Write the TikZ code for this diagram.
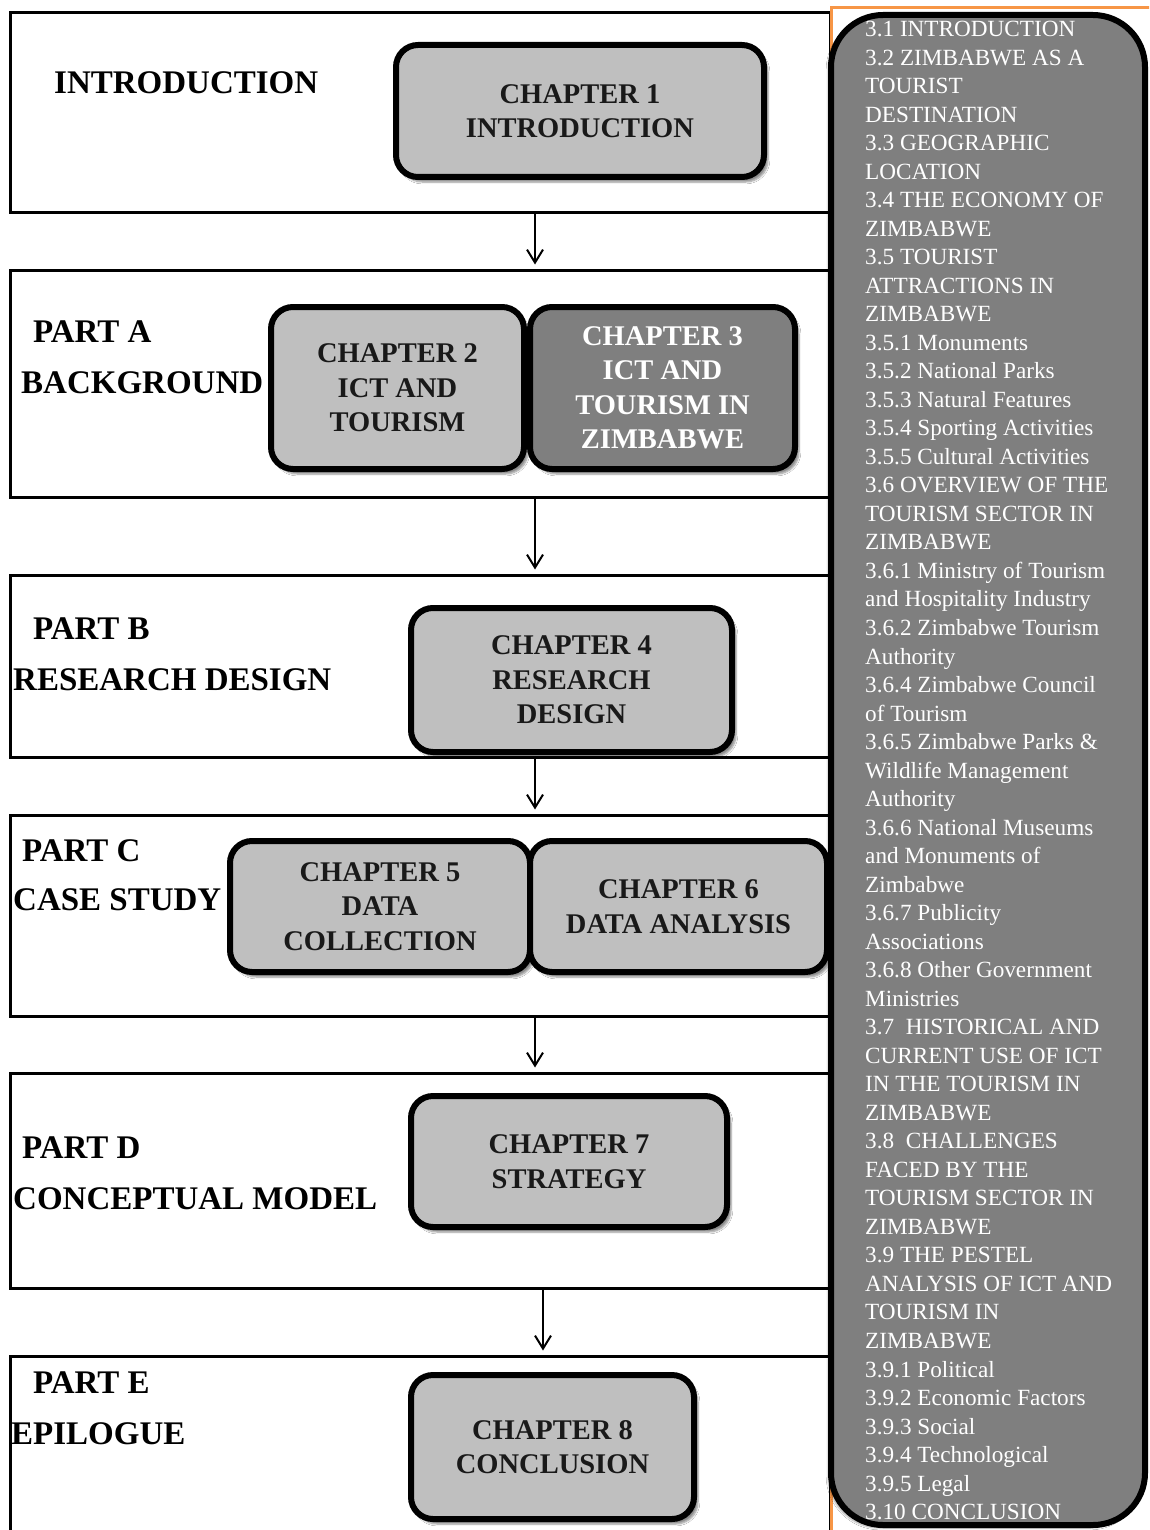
\documentclass[tikz,border=0pt]{standalone}
\usepackage{fontspec}
\setmainfont{Liberation Serif}
\usetikzlibrary{arrows.meta,fit,shadows.blur}

\definecolor{chapfill}{HTML}{BFBFBF}
\definecolor{chapdark}{HTML}{7F7F7F}
\definecolor{accent}{HTML}{F79646}

\begin{document}
\begin{tikzpicture}[x=1pt,y=-1pt,
  partbox/.style={draw=black, line width=3pt, inner sep=0pt, rectangle},
  chapbox/.style={draw=black, line width=6pt, rounded corners=22pt, fill=chapfill,
    align=center, inner sep=0pt, text=black!90,
    font=\bfseries\fontsize{28.5}{34.5}\selectfont,
    blur shadow={shadow xshift=4pt, shadow yshift=-5pt, shadow blur steps=6, shadow opacity=45}},
  darkchap/.style={chapbox, fill=chapdark, text=white},
  lbl/.style={anchor=west, inner sep=0pt, font=\bfseries\fontsize{33}{40}\selectfont},
  flow/.style={line width=2pt, -{Straight Barb[length=13pt,width=16pt,line width=2pt]}, shorten >=4pt},
  sidebar/.style={draw=black, line width=6pt, rounded corners=52pt, fill=chapdark,
    blur shadow={shadow xshift=-3pt, shadow yshift=-3pt, shadow blur steps=6, shadow opacity=35}},
  sidetext/.style={anchor=north west, inner sep=0pt, align=left, text=white,
    font=\fontsize{23.2}{28.52}\selectfont}
]
\useasboundingbox (0,0) rectangle (1149,1530);
\fill[white] (0,0) rectangle (1149,1530);
\clip (0,0) rectangle (1149,1530);

% part frames (their right edges run under the contents panel)
\node[partbox, fit={(10,13) (830,213)}]    (intro) {};
\node[partbox, fit={(10,270) (830,497)}]   (partA) {};
\node[partbox, fit={(10,575) (830,757)}]   (partB) {};
\node[partbox, fit={(10,815) (830,1016)}]  (partC) {};
\node[partbox, fit={(10,1073) (830,1288)}] (partD) {};
\node[partbox, fit={(10,1356) (830,1560)}] (partE) {};

% part labels
\node[lbl] (l-intro) at (54,83)  {INTRODUCTION};
\node[lbl] (l-a1) at (33,332)  {PART A};
\node[lbl] (l-a2) at (21,383)  {BACKGROUND};
\node[lbl] (l-b1) at (33,629)  {PART B};
\node[lbl] (l-b2) at (13,680)  {RESEARCH DESIGN};
\node[lbl] (l-c1) at (22,851)  {PART C};
\node[lbl] (l-c2) at (13,900)  {CASE STUDY};
\node[lbl] (l-d1) at (22,1148) {PART D};
\node[lbl] (l-d2) at (13,1199) {CONCEPTUAL MODEL};
\node[lbl] (l-e1) at (33,1383) {PART E};
\node[lbl] (l-e2) at (11,1434) {EPILOGUE};

% chapter boxes
\node[chapbox, minimum width=368pt, minimum height=132pt] (ch1) at (580,111) {CHAPTER 1\\INTRODUCTION};
\node[chapbox, minimum width=253pt, minimum height=162pt] (ch2) at (397.5,388) {CHAPTER 2\\ICT AND\\TOURISM};
\node[darkchap, minimum width=265pt, minimum height=162pt] (ch3) at (662.5,388) {CHAPTER 3\\ICT AND\\TOURISM IN\\ZIMBABWE};
\node[chapbox, minimum width=321pt, minimum height=144pt] (ch4) at (571.5,680) {CHAPTER 4\\RESEARCH\\DESIGN};
\node[chapbox, minimum width=300pt, minimum height=131pt] (ch5) at (380,906.5) {CHAPTER 5\\DATA\\COLLECTION};
\node[chapbox, minimum width=297pt, minimum height=131pt] (ch6) at (678.5,906.5) {CHAPTER 6\\DATA ANALYSIS};
\node[chapbox, minimum width=316pt, minimum height=131pt] (ch7) at (569,1161.5) {CHAPTER 7\\STRATEGY};
\node[chapbox, minimum width=283pt, minimum height=144pt] (ch8) at (552.5,1447) {CHAPTER 8\\CONCLUSION};

% flow between parts
\coordinate (ax) at (535,0);
\coordinate (bx) at (543,0);
\draw[flow] (intro.south -| ax) -- (partA.north -| ax);
\draw[flow] (partA.south -| ax) -- (partB.north -| ax);
\draw[flow] (partB.south -| ax) -- (partC.north -| ax);
\draw[flow] (partC.south -| ax) -- (partD.north -| ax);
\draw[flow] (partD.south -| bx) -- (partE.north -| bx);

% chapter 3 contents panel
\draw[accent, line width=3pt] (831,1540) -- (831,8) -- (1160,8);
\node[sidebar, minimum width=314pt, minimum height=1510pt] (side) at (988,770) {};
\node[sidetext] (contents) at (865,21) {%
3.1 INTRODUCTION\\
3.2 ZIMBABWE AS A\\
TOURIST\\
DESTINATION\\
3.3 GEOGRAPHIC\\
LOCATION\\
3.4 THE ECONOMY OF\\
ZIMBABWE\\
3.5 TOURIST\\
ATTRACTIONS IN\\
ZIMBABWE\\
3.5.1 Monuments\\
3.5.2 National Parks\\
3.5.3 Natural Features\\
3.5.4 Sporting Activities\\
3.5.5 Cultural Activities\\
3.6 OVERVIEW OF THE\\
TOURISM SECTOR IN\\
ZIMBABWE\\
3.6.1 Ministry of Tourism\\
and Hospitality Industry\\
3.6.2 Zimbabwe Tourism\\
Authority\\
3.6.4 Zimbabwe Council\\
of Tourism\\
3.6.5 Zimbabwe Parks \&\\
Wildlife Management\\
Authority\\
3.6.6 National Museums\\
and Monuments of\\
Zimbabwe\\
3.6.7 Publicity\\
Associations\\
3.6.8 Other Government\\
Ministries\\
3.7 \ HISTORICAL AND\\
CURRENT USE OF ICT\\
IN THE TOURISM IN\\
ZIMBABWE\\
3.8 \ CHALLENGES\\
FACED BY THE\\
TOURISM SECTOR IN\\
ZIMBABWE\\
3.9 THE PESTEL\\
ANALYSIS OF ICT AND\\
TOURISM IN\\
ZIMBABWE\\
3.9.1 Political\\
3.9.2 Economic Factors\\
3.9.3 Social\\
3.9.4 Technological\\
3.9.5 Legal\\
3.10 CONCLUSION};
\end{tikzpicture}
\end{document}
